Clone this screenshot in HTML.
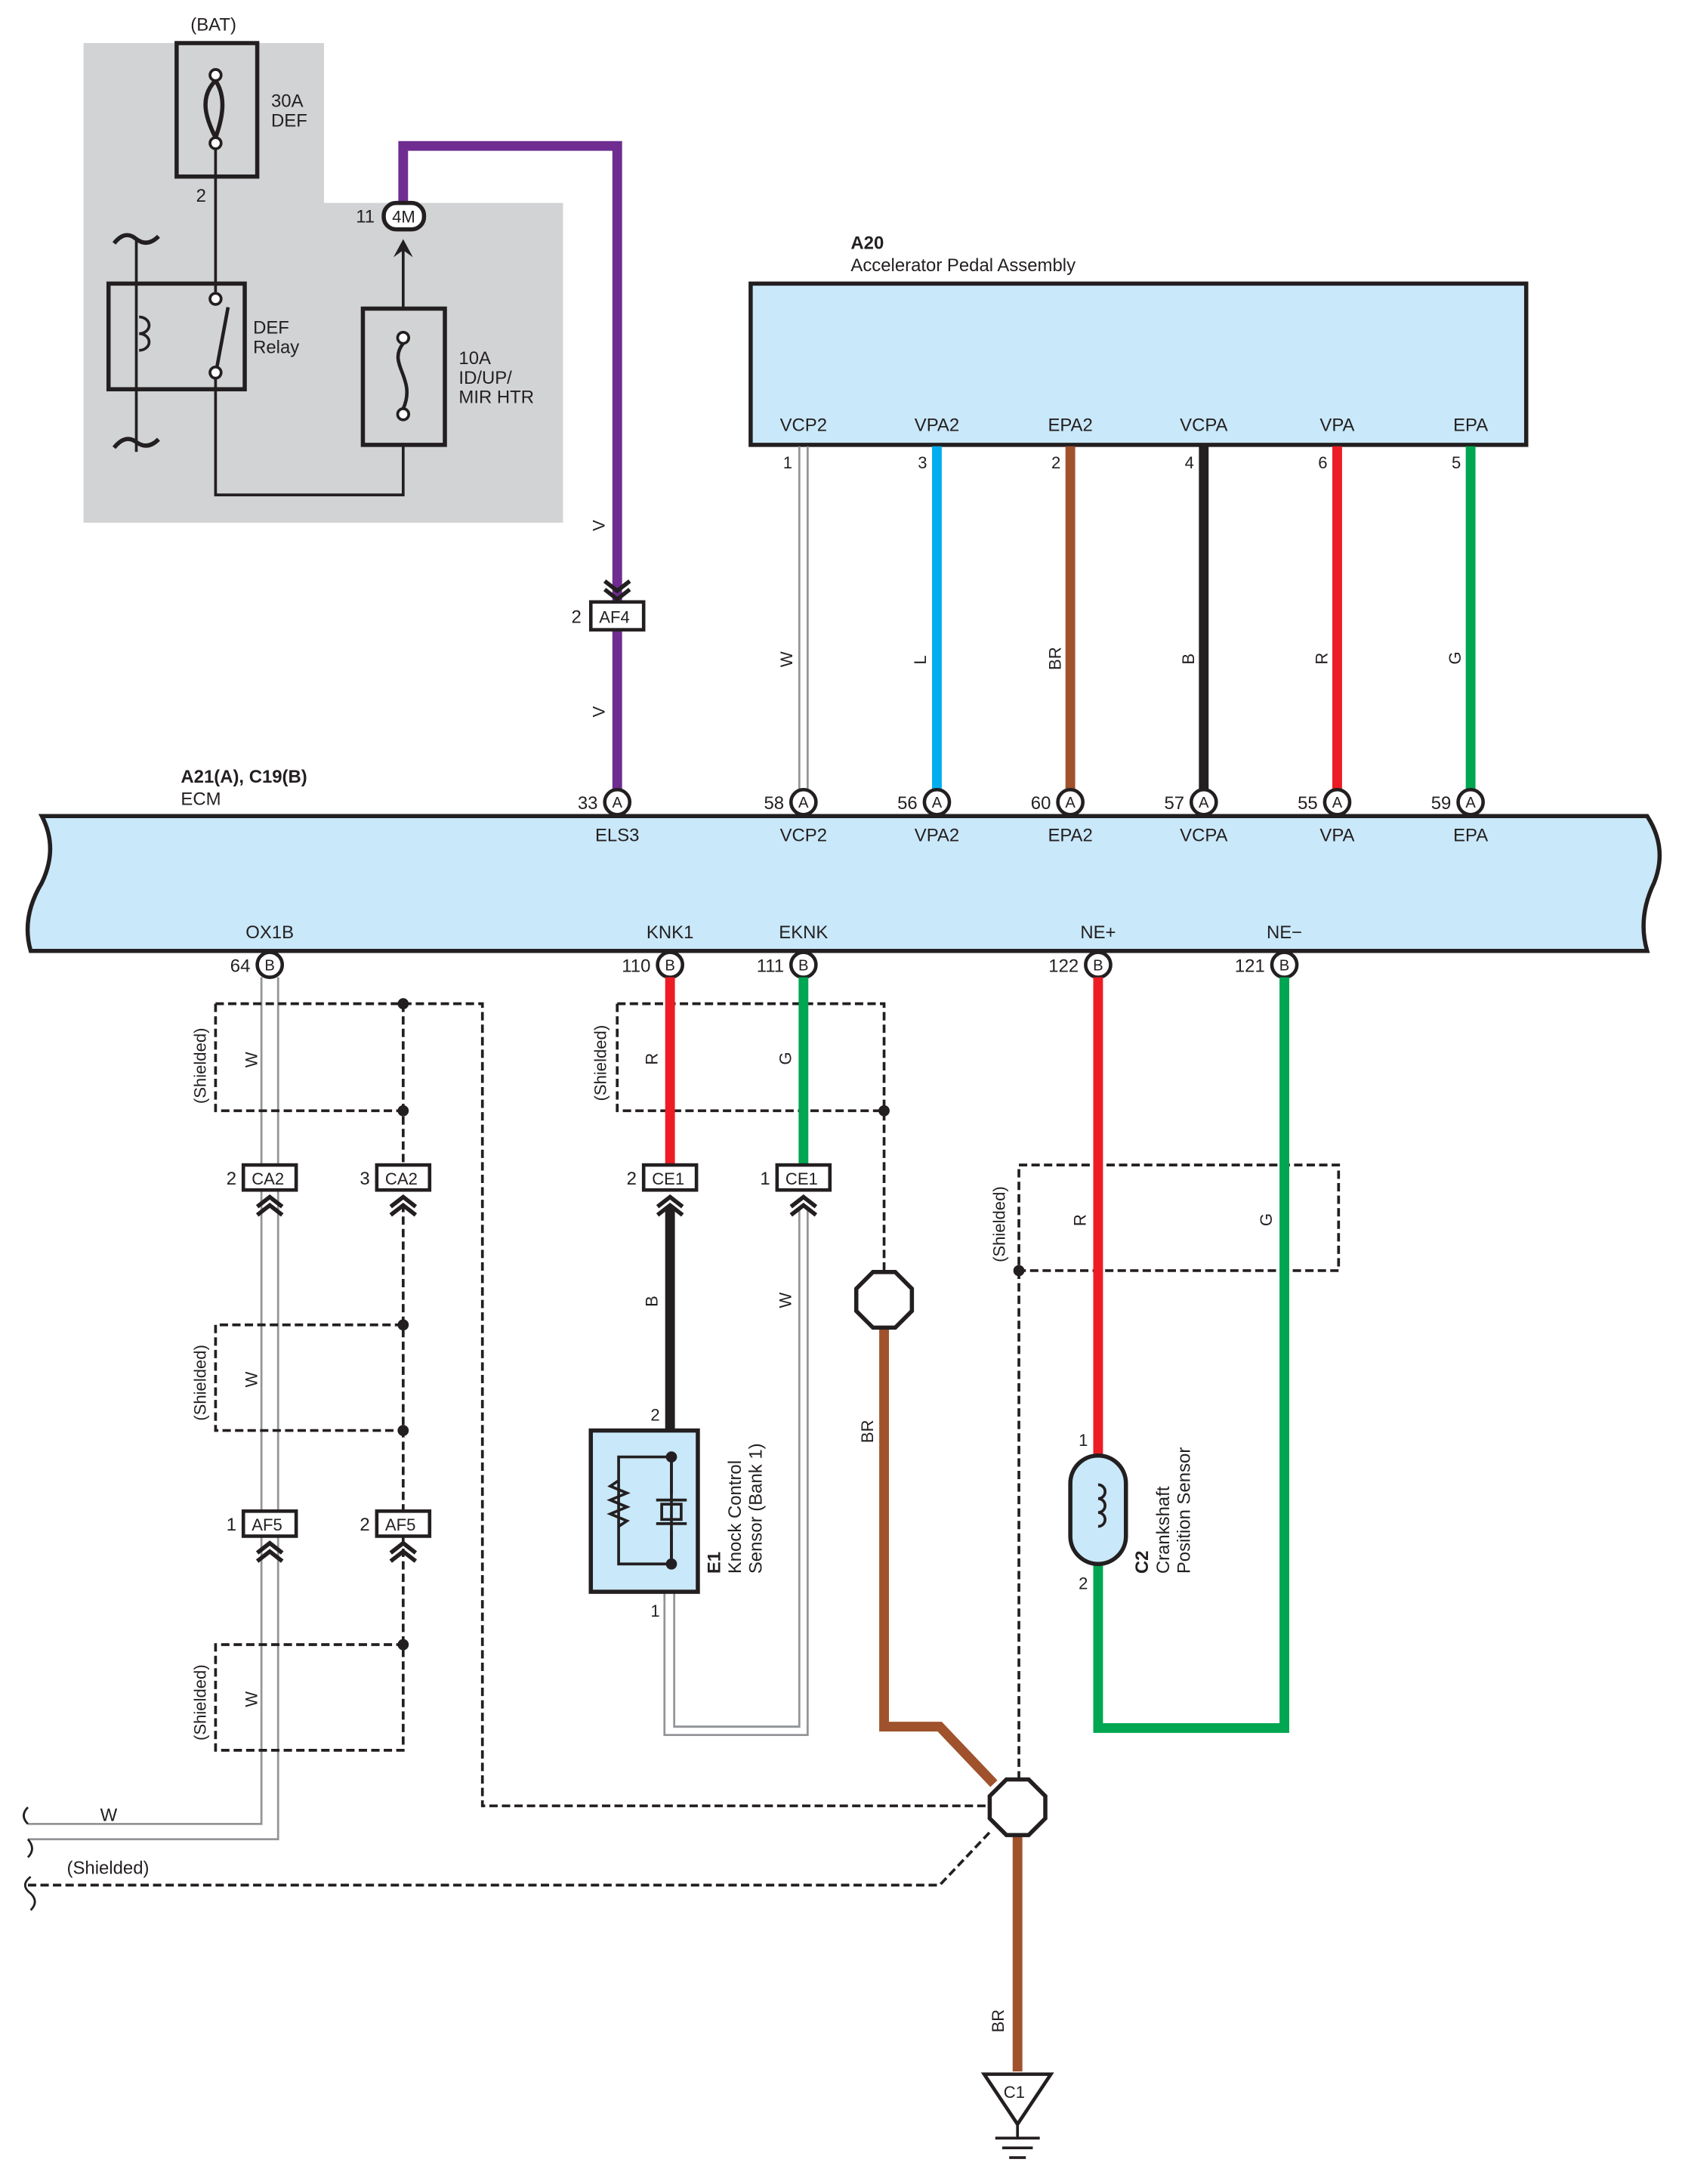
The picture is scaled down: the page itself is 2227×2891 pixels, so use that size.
<!DOCTYPE html>
<html><head><meta charset="utf-8"><style>
html,body{margin:0;padding:0;background:#fff}
svg{display:block}
text{font-family:"Liberation Sans",sans-serif;fill:#231f20}
</style></head><body>
<svg width="2227" height="2891" viewBox="0 0 1210 1571" xmlns="http://www.w3.org/2000/svg">
<defs>
<g id="chev"><path d="M-9,0 L0,-7 L9,0 M-9,6 L0,-1 L9,6" fill="none" stroke="#231f20" stroke-width="3"/></g>
</defs>
<rect width="1210" height="1571" fill="#fff"/>
<polygon points="60,31 233,31 233,146 405,146 405,376 60,376" fill="#d1d3d4"/>
<text x="137" y="22" font-size="13">(BAT)</text>
<rect x="127" y="31" width="58" height="96" fill="none" stroke="#231f20" stroke-width="3"/>
<circle cx="155" cy="54" r="4" fill="#fff" stroke="#231f20" stroke-width="2"/>
<circle cx="155" cy="103" r="4" fill="#fff" stroke="#231f20" stroke-width="2"/>
<path d="M155,58 C143,70 148,85 155,99 M155,58 C163,70 160,85 155,99" fill="none" stroke="#231f20" stroke-width="3"/>
<text x="195" y="77" font-size="13">30A</text><text x="195" y="91" font-size="13">DEF</text>
<text x="141" y="145" font-size="13">2</text>
<path d="M155,107 V210 M155,272 V356 H290 V320 M290,222 V176" fill="none" stroke="#231f20" stroke-width="2"/>
<rect x="78" y="204" width="98" height="76" fill="none" stroke="#231f20" stroke-width="3"/>
<path d="M98,172 V325" stroke="#231f20" stroke-width="2"/>
<path d="M82,175 Q90,165 98,172 Q106,178 114,170 M82,322 Q90,312 98,318 Q106,324 114,316" fill="none" stroke="#231f20" stroke-width="3"/>
<path d="M100,228 a6,5 0 1,1 0,12 a6,5 0 1,1 0,12" fill="none" stroke="#231f20" stroke-width="2"/>
<circle cx="155" cy="215" r="4" fill="#fff" stroke="#231f20" stroke-width="2"/>
<circle cx="155" cy="268" r="4" fill="#fff" stroke="#231f20" stroke-width="2"/>
<path d="M156,264 L164,221" stroke="#231f20" stroke-width="2.5"/>
<text x="182" y="240" font-size="13">DEF</text><text x="182" y="254" font-size="13">Relay</text>
<rect x="261" y="222" width="59" height="98" fill="none" stroke="#231f20" stroke-width="3"/>
<circle cx="290" cy="243" r="4" fill="#fff" stroke="#231f20" stroke-width="2"/>
<circle cx="290" cy="298" r="4" fill="#fff" stroke="#231f20" stroke-width="2"/>
<path d="M290,247 C278,262 300,272 290,294" fill="none" stroke="#231f20" stroke-width="2.5"/>
<text x="330" y="262" font-size="13">10A</text><text x="330" y="276" font-size="13">ID/UP/</text><text x="330" y="290" font-size="13">MIR HTR</text>
<path d="M283,185 L290,172 L297,185 L290,180 Z" fill="#231f20"/>
<path d="M290,145 V105 H444 V577" fill="none" stroke="#6f2c91" stroke-width="7"/>
<rect x="276" y="146" width="29" height="19" rx="9" fill="#fff" stroke="#231f20" stroke-width="3"/>
<text x="282" y="160" font-size="12">4M</text>
<text x="256" y="160" font-size="13">11</text>
<use href="#chev" transform="translate(444,424) scale(1,-1)"/>
<rect x="425" y="433" width="38" height="20" fill="#fff" stroke="#231f20" stroke-width="2.5"/>
<text x="431" y="448" font-size="12">AF4</text>
<text x="411" y="448" font-size="13">2</text>
<text transform="translate(435,382) rotate(-90)" font-size="12">V</text>
<text transform="translate(435,516) rotate(-90)" font-size="12">V</text>
<text x="612" y="179" font-size="13" font-weight="bold">A20</text>
<text x="612" y="195" font-size="13">Accelerator Pedal Assembly</text>
<rect x="540" y="204" width="558" height="116" fill="#c9e8f9" stroke="#231f20" stroke-width="3"/>
<g font-size="13" text-anchor="middle">
<text x="578" y="310">VCP2</text><text x="674" y="310">VPA2</text><text x="770" y="310">EPA2</text><text x="866" y="310">VCPA</text><text x="962" y="310">VPA</text><text x="1058" y="310">EPA</text>
</g>
<path d="M575,321 V568 M581,321 V568" stroke="#939598" stroke-width="1.5" fill="none"/>
<path d="M674,321 V568" stroke="#00aeef" stroke-width="7"/>
<path d="M770,321 V568" stroke="#a0522d" stroke-width="7"/>
<path d="M866,321 V568" stroke="#231f20" stroke-width="7"/>
<path d="M962,321 V568" stroke="#ed1c24" stroke-width="7"/>
<path d="M1058,321 V568" stroke="#00a651" stroke-width="7"/>
<g font-size="12" text-anchor="end">
<text x="570" y="337">1</text><text x="667" y="337">3</text><text x="763" y="337">2</text><text x="859" y="337">4</text><text x="955" y="337">6</text><text x="1051" y="337">5</text>
</g>
<g font-size="12">
<text transform="translate(570,480) rotate(-90)">W</text>
<text transform="translate(666,478) rotate(-90)">L</text>
<text transform="translate(763,482) rotate(-90)">BR</text>
<text transform="translate(859,478) rotate(-90)">B</text>
<text transform="translate(955,478) rotate(-90)">R</text>
<text transform="translate(1051,478) rotate(-90)">G</text>
</g>
<text x="130" y="563" font-size="13" font-weight="bold">A21(A), C19(B)</text>
<text x="130" y="579" font-size="13">ECM</text>
<path d="M30,587 H1185 Q1200,610 1190,635 Q1178,660 1185,684 H22 Q15,660 30,635 Q42,610 30,587 Z" fill="#c9e8f9" stroke="#231f20" stroke-width="3"/>
<g font-size="13" text-anchor="middle">
<text x="444" y="605">ELS3</text><text x="578" y="605">VCP2</text><text x="674" y="605">VPA2</text><text x="770" y="605">EPA2</text><text x="866" y="605">VCPA</text><text x="962" y="605">VPA</text><text x="1058" y="605">EPA</text>
<text x="194" y="675">OX1B</text><text x="482" y="675">KNK1</text><text x="578" y="675">EKNK</text><text x="790" y="675">NE+</text><text x="924" y="675">NE−</text>
</g>
<g font-size="12">
<g fill="#fff" stroke="#231f20" stroke-width="2.5">
<circle cx="444" cy="577" r="9"/><circle cx="578" cy="577" r="9"/><circle cx="674" cy="577" r="9"/><circle cx="770" cy="577" r="9"/><circle cx="866" cy="577" r="9"/><circle cx="962" cy="577" r="9"/><circle cx="1058" cy="577" r="9"/>
<circle cx="194" cy="694" r="9"/><circle cx="482" cy="694" r="9"/><circle cx="578" cy="694" r="9"/><circle cx="790" cy="694" r="9"/><circle cx="924" cy="694" r="9"/>
</g>
<g text-anchor="middle" font-size="11">
<text x="444" y="581">A</text><text x="578" y="581">A</text><text x="674" y="581">A</text><text x="770" y="581">A</text><text x="866" y="581">A</text><text x="962" y="581">A</text><text x="1058" y="581">A</text>
<text x="194" y="698">B</text><text x="482" y="698">B</text><text x="578" y="698">B</text><text x="790" y="698">B</text><text x="924" y="698">B</text>
</g>
<g text-anchor="end" font-size="13">
<text x="430" y="582">33</text><text x="564" y="582">58</text><text x="660" y="582">56</text><text x="756" y="582">60</text><text x="852" y="582">57</text><text x="948" y="582">55</text><text x="1044" y="582">59</text>
<text x="180" y="699">64</text><text x="468" y="699">110</text><text x="564" y="699">111</text><text x="776" y="699">122</text><text x="910" y="699">121</text>
</g>
</g>
<path d="M188,703 V1312 H20 M200,703 V1323 H20" fill="none" stroke="#939598" stroke-width="1.5"/>
<text x="72" y="1310" font-size="13">W</text>
<path d="M20,1300 Q14,1306 20,1312 M20,1323 Q26,1330 20,1336" fill="none" stroke="#231f20" stroke-width="1.5"/>
<path d="M22,1350 Q14,1356 22,1362 Q28,1368 22,1374" fill="none" stroke="#231f20" stroke-width="1.5"/>
<g fill="none" stroke="#231f20" stroke-width="2" stroke-dasharray="6,3">
<path d="M155,722 H347 V1299 H712"/>
<path d="M155,722 V799 H290"/>
<path d="M290,722 V838 M290,866 V1087 M290,1105 V1259 H155 V1183 H290"/>
<path d="M290,953 H155 V1029 H290"/>
<path d="M20,1356 H676 L712,1318"/>
<path d="M444,722 H636 V915 M444,722 V799 H636"/>
<path d="M733,838 H963 V914 H733 Z M733,914 V1280"/>
</g>
<g fill="#231f20">
<circle cx="290" cy="722" r="4"/><circle cx="290" cy="799" r="4"/><circle cx="290" cy="953" r="4"/><circle cx="290" cy="1029" r="4"/><circle cx="290" cy="1183" r="4"/><circle cx="636" cy="799" r="4"/><circle cx="733" cy="914" r="4"/>
</g>
<g font-size="12">
<text transform="translate(148,794) rotate(-90)">(Shielded)</text>
<text transform="translate(148,1022) rotate(-90)">(Shielded)</text>
<text transform="translate(148,1252) rotate(-90)">(Shielded)</text>
<text transform="translate(436,792) rotate(-90)">(Shielded)</text>
<text transform="translate(723,908) rotate(-90)">(Shielded)</text>
<text transform="translate(185,768) rotate(-90)">W</text>
<text transform="translate(185,998) rotate(-90)">W</text>
<text transform="translate(185,1228) rotate(-90)">W</text>
<text transform="translate(473,766) rotate(-90)">R</text>
<text transform="translate(569,766) rotate(-90)">G</text>
<text transform="translate(473,940) rotate(-90)">B</text>
<text transform="translate(569,941) rotate(-90)">W</text>
<text transform="translate(628,1038) rotate(-90)">BR</text>
<text transform="translate(781,882) rotate(-90)">R</text>
<text transform="translate(915,882) rotate(-90)">G</text>
<text transform="translate(722,1462) rotate(-90)">BR</text>
</g>
<text x="48" y="1348" font-size="13">(Shielded)</text>
<path d="M482,703 V838" stroke="#ed1c24" stroke-width="7"/>
<path d="M578,703 V838" stroke="#00a651" stroke-width="7"/>
<path d="M482,868 V1029" stroke="#231f20" stroke-width="7"/>
<path d="M575,868 V1242 H485 V1145 M581,868 V1248 H478 V1145" fill="none" stroke="#939598" stroke-width="1.5"/>
<g font-size="12">
<g fill="#fff" stroke="#231f20" stroke-width="2.5">
<rect x="175" y="838" width="38" height="18"/><rect x="271" y="838" width="38" height="18"/>
<rect x="463" y="838" width="38" height="18"/><rect x="559" y="838" width="38" height="18"/>
<rect x="175" y="1087" width="38" height="18"/><rect x="271" y="1087" width="38" height="18"/>
</g>
<text x="181" y="852">CA2</text><text x="277" y="852">CA2</text><text x="469" y="852">CE1</text><text x="565" y="852">CE1</text><text x="181" y="1101">AF5</text><text x="277" y="1101">AF5</text>
<g font-size="13" text-anchor="end"><text x="170" y="852">2</text><text x="266" y="852">3</text><text x="458" y="852">2</text><text x="554" y="852">1</text><text x="170" y="1101">1</text><text x="266" y="1101">2</text></g>
</g>
<use href="#chev" x="194" y="868"/><use href="#chev" x="290" y="868"/><use href="#chev" x="482" y="868"/><use href="#chev" x="578" y="868"/>
<use href="#chev" x="194" y="1117"/><use href="#chev" x="290" y="1117"/>
<path d="M636,955 V1242 H676 L715,1283" fill="none" stroke="#a0522d" stroke-width="7"/>
<path d="M732,1320 V1490" stroke="#a0522d" stroke-width="7"/>
<polygon points="628,915 644,915 656,927 656,943 644,955 628,955 616,943 616,927" fill="#fff" stroke="#231f20" stroke-width="3"/>
<polygon points="724,1280 740,1280 752,1292 752,1308 740,1320 724,1320 712,1308 712,1292" fill="#fff" stroke="#231f20" stroke-width="3"/>
<polygon points="708,1492 756,1492 732,1528" fill="#fff" stroke="#231f20" stroke-width="2.5"/>
<text x="722" y="1509" font-size="12">C1</text>
<path d="M732,1528 V1538 M716,1538 H748 M721,1545 H743 M726,1552 H738" stroke="#231f20" stroke-width="2"/>
<rect x="425" y="1029" width="77" height="116" fill="#c9e8f9" stroke="#231f20" stroke-width="3"/>
<path d="M445,1048 H483 V1125 H445 Z" fill="none" stroke="#231f20" stroke-width="2"/>
<path d="M445,1065 l-6,4 l12,5 l-12,5 l12,5 l-12,5 l12,5 l-6,4" fill="none" stroke="#231f20" stroke-width="2"/>
<path d="M483,1048 V1075 M483,1100 V1125 M472,1079 H494 M472,1096 H494" stroke="#231f20" stroke-width="2"/>
<rect x="476" y="1082" width="14" height="11" fill="none" stroke="#231f20" stroke-width="2"/>
<circle cx="483" cy="1048" r="4" fill="#231f20"/><circle cx="483" cy="1125" r="4" fill="#231f20"/>
<text x="468" y="1022" font-size="12">2</text><text x="468" y="1163" font-size="12">1</text>
<text transform="translate(518,1132) rotate(-90)" font-size="13" font-weight="bold">E1</text>
<text transform="translate(533,1132) rotate(-90)" font-size="13">Knock Control</text>
<text transform="translate(548,1132) rotate(-90)" font-size="13">Sensor (Bank 1)</text>
<path d="M790,703 V1047" stroke="#ed1c24" stroke-width="7"/>
<path d="M790,1125 V1243 H924 V703" fill="none" stroke="#00a651" stroke-width="7"/>
<rect x="770" y="1047" width="40" height="78" rx="20" fill="#c9e8f9" stroke="#231f20" stroke-width="3"/>
<path d="M790,1068 a5,5 0 1,1 0,10 a5,5 0 1,1 0,10 a5,5 0 1,1 0,10" fill="none" stroke="#231f20" stroke-width="2"/>
<text x="776" y="1040" font-size="12">1</text><text x="776" y="1143" font-size="12">2</text>
<text transform="translate(826,1132) rotate(-90)" font-size="13" font-weight="bold">C2</text>
<text transform="translate(841,1132) rotate(-90)" font-size="13">Crankshaft</text>
<text transform="translate(856,1132) rotate(-90)" font-size="13">Position Sensor</text>
</svg>
</body></html>
